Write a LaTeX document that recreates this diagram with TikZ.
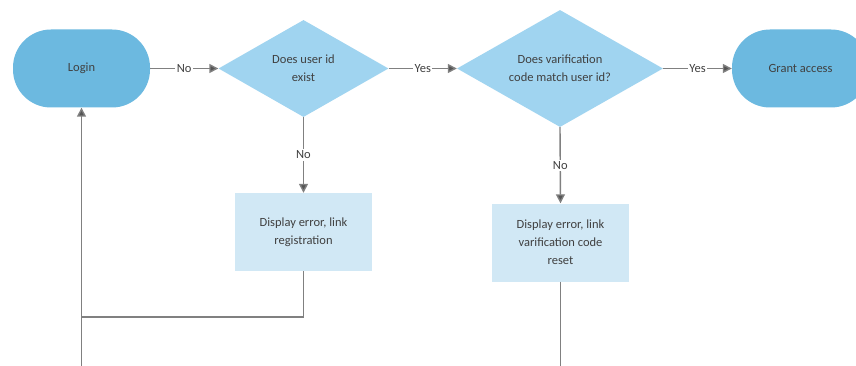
\documentclass[tikz,border=0pt]{standalone}
\usepackage{fontspec}
\setmainfont{Carlito}
\usepackage{xcolor}
\usetikzlibrary{arrows.meta,shapes.geometric}
\definecolor{termblue}{RGB}{108,185,224}
\definecolor{decisionblue}{RGB}{160,212,240}
\definecolor{stepblue}{RGB}{209,232,245}
\definecolor{inkgray}{RGB}{64,64,64}
\definecolor{linegray}{RGB}{128,128,128}
\definecolor{tipgray}{RGB}{85,85,85}

\tikzset{
    terminal/.style={fill=termblue, rounded corners=38pt, minimum width=137pt, minimum height=78pt, inner sep=0pt},
    decision/.style={diamond, aspect=1.77, fill=decisionblue, inner sep=0pt, align=center},
    stepbox/.style={fill=stepblue, minimum width=137pt, minimum height=78pt, align=center, inner sep=0pt},
    flow/.style={linegray, line width=1.4pt},
    flowarrow/.style={flow, -{Triangle[length=9pt, width=9pt, fill=tipgray]}},
    answer/.style={fill=white, inner sep=1.5pt, text=inkgray}
}

\begin{document}
\begin{tikzpicture}[x=1pt, y=-1pt, font=\fontsize{12.5}{18}\selectfont, text=inkgray]

% Page frame
\useasboundingbox (0,0) rectangle (856,366);
\clip (0,0) rectangle (856,366);
\fill[white] (0,0) rectangle (856,366);

% 1. START / END
\node[terminal] (login) at (81.5, 68.5) {Login};
\node[terminal] (grant) at (800.5, 68.5) {Grant access};

% 2. DECISIONS
\node[decision, minimum width=170pt, minimum height=97pt] (userid) at (303.5, 68.5) {Does user id\\exist};
\node[decision, minimum width=206pt, minimum height=117pt] (vcode) at (560, 68.5) {Does varification\\code match user id?};

% 3. ERROR STEPS
\node[stepbox] (regerr) at (303.5, 232) {Display error, link\\registration};
\node[stepbox] (reseterr) at (560.5, 242.5) {Display error, link\\varification code\\reset};

% Loose ends at the page bottom
\coordinate (back) at (81.5, 317);
\coordinate (loginout) at (81.5, 366);
\coordinate (resetout) at (560.5, 366);

% 4. CONNECTORS
\draw[flowarrow] (login.east) -- node[answer] {No} (userid.west);
\draw[flowarrow] (userid.east) -- node[answer] {Yes} (vcode.west);
\draw[flowarrow] (vcode.east) -- node[answer] {Yes} (grant.west);

\draw[flowarrow] (userid.south) -- node[answer] {No} (regerr.north);
\draw[flowarrow] (vcode.south) -- node[answer] {No} (reseterr.north);

% Back to login
\draw[flow] (regerr.south) |- (back);
\draw[flowarrow] (back) -- (login.south);
\draw[flow] (back) -- (loginout);
\draw[flow] (reseterr.south) -- (resetout);

\end{tikzpicture}
\end{document}
